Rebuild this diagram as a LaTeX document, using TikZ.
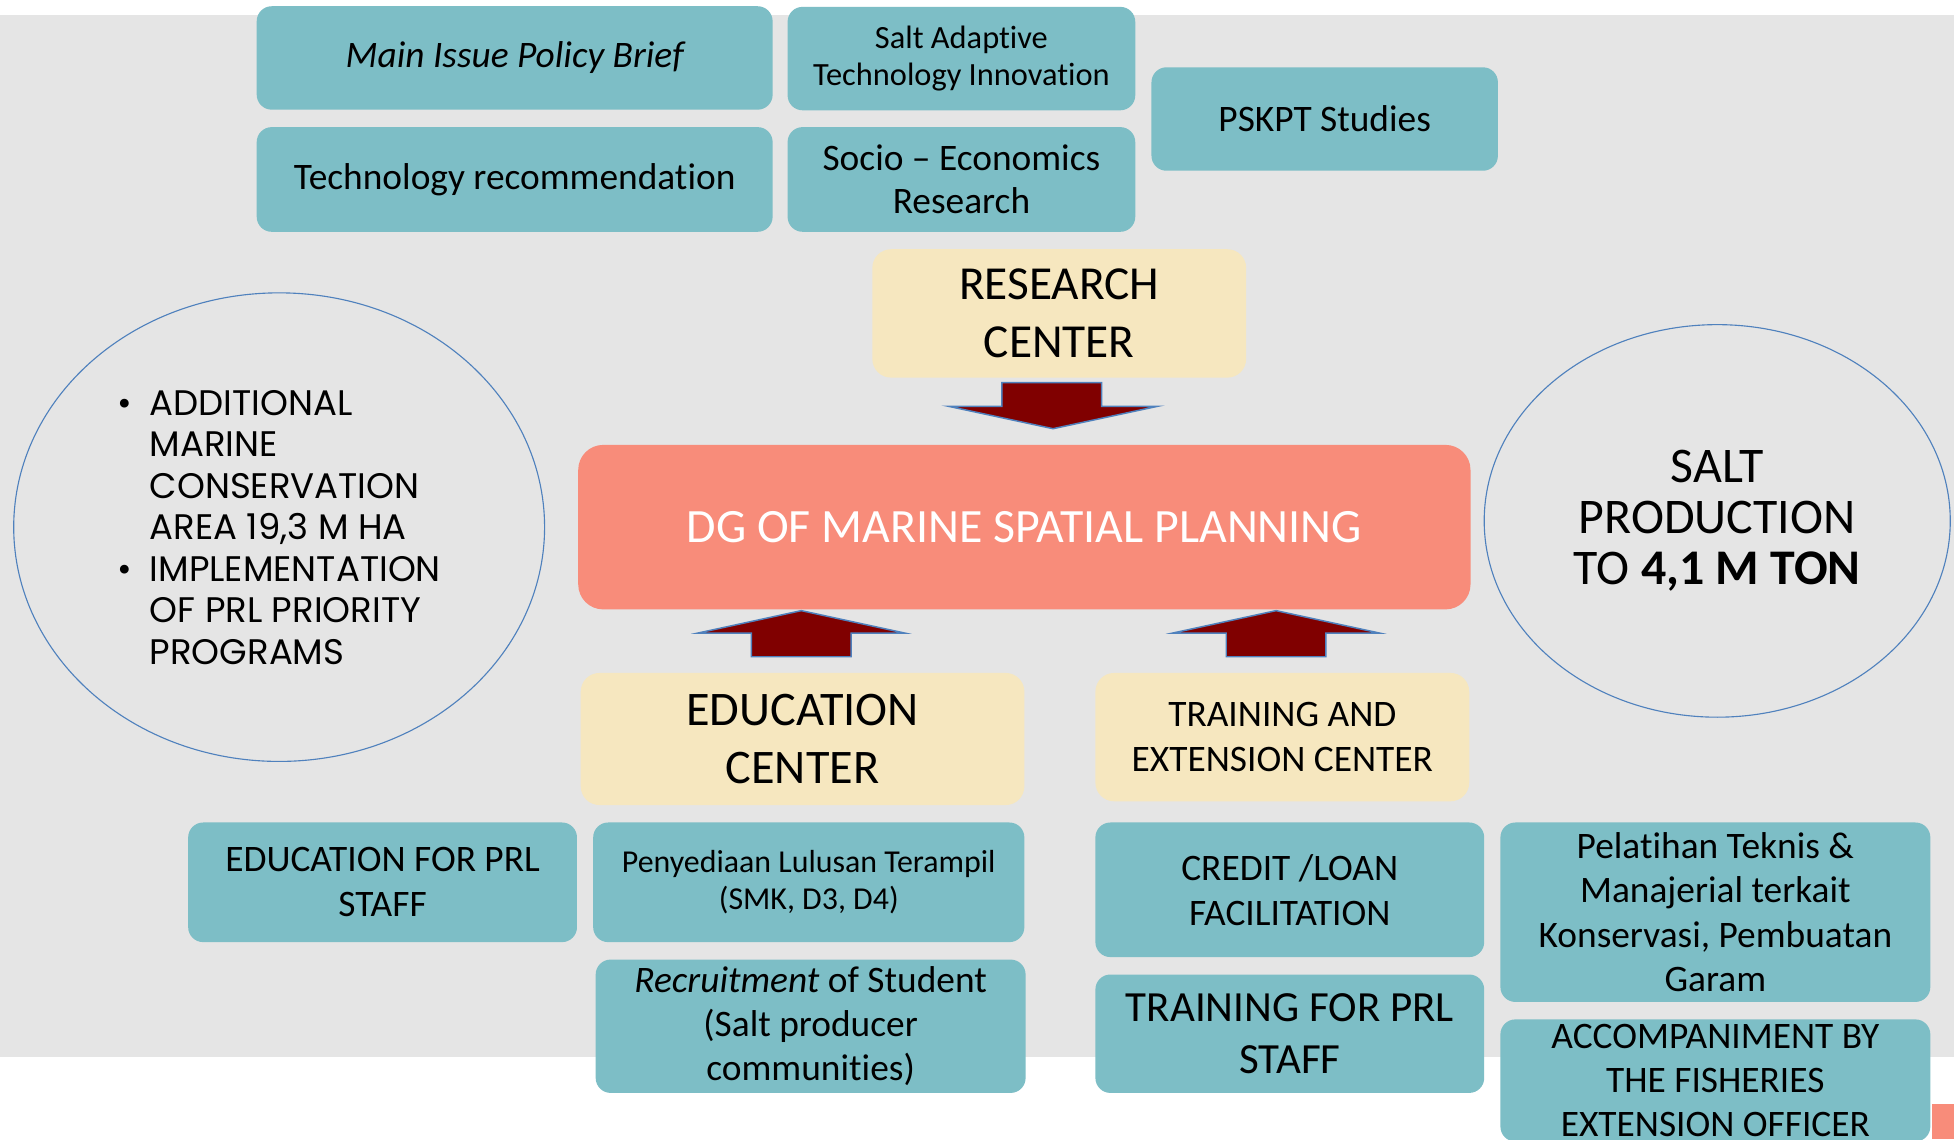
\documentclass[tikz,border=0pt]{standalone}
\usepackage{fontspec}
\setmainfont{Carlito}[Ligatures = NoCommon]
\newfontfamily\gothic{Poppins}
\usetikzlibrary{shapes.geometric}

\definecolor{bggray}{RGB}{229,229,229}
\definecolor{tealfill}{RGB}{125,190,198}
\definecolor{beigefill}{RGB}{246,231,191}
\definecolor{salmonfill}{RGB}{248,140,122}
\definecolor{arrowred}{RGB}{128,0,0}
\definecolor{edgeblue}{RGB}{79,129,189}

\newcommand{\setsz}[2]{\fontsize{#1}{#2}\selectfont}

\begin{document}
\begin{tikzpicture}[x = 1pt, y = -1pt,
    tealbox/.style = {fill = tealfill, rounded corners = 12pt, align = center, inner sep = 0pt},
    beigebox/.style = {fill = beigefill, rounded corners = 15pt, align = center, inner sep = 0pt},
    blockarrow/.style = {fill = arrowred, draw = edgeblue, line width = 1.2pt},
    goal/.style = {ellipse, draw = edgeblue, line width = 0.9pt, inner sep = 0pt}]

        \useasboundingbox (0,0) rectangle (1568,914);
        \fill [white] (0,0) rectangle (1568,914);
        \fill [bggray] (0,12) rectangle (1568,848);
        \fill [salmonfill] (1550,886) rectangle (1568,914);

        % research outputs
        \node [tealbox, minimum width = 414pt, minimum height = 83pt, font = \setsz{30}{35}\itshape] (brief) at (413,46.5) {Main Issue Policy Brief};
        \node [tealbox, minimum width = 414pt, minimum height = 84pt, font = \setsz{30}{35}] (techrec) at (413,144) {Technology recommendation};
        \node [tealbox, minimum width = 279pt, minimum height = 83pt, font = \setsz{26}{30}] (saltinno) at (771.5,47) {Salt Adaptive\\Technology Innovation};
        \node [tealbox, minimum width = 279pt, minimum height = 84pt, font = \setsz{30}{35}] (socio) at (771.5,144) {Socio -- Economics\\Research};
        \node [tealbox, minimum width = 278pt, minimum height = 83pt, font = \setsz{30}{35}] (pskpt) at (1063,95.5) {PSKPT Studies};

        % centers
        \node [beigebox, minimum width = 300pt, minimum height = 103pt, font = \setsz{38}{46}] (research) at (850,251.5) {RESEARCH\\CENTER};
        \node [fill = salmonfill, rounded corners = 20pt, minimum width = 716pt, minimum height = 132pt, text = white, font = \setsz{38.4}{46}] (dg) at (822,423) {DG OF MARINE SPATIAL PLANNING};
        \node [beigebox, minimum width = 356pt, minimum height = 106pt, font = \setsz{38.7}{46}] (educ) at (644,593) {EDUCATION\\CENTER};
        \node [beigebox, minimum width = 300pt, minimum height = 103pt, font = \setsz{30}{36}] (train) at (1029,591.5) {TRAINING AND\\EXTENSION CENTER};

        % block arrows
        \draw [blockarrow] (845,344) -- ++(-84,-18) -- ++(43,0) -- ++(0,-19) -- ++(80,0) -- ++(0,19) -- ++(45,0) -- cycle;
        \foreach \x in {643,1024} {
          \draw [blockarrow] (\x,490) -- ++(-83,18) -- ++(43,0) -- ++(0,19) -- ++(80,0) -- ++(0,-19) -- ++(43,0) -- cycle;
        }

        % targets
        \node [goal, minimum width = 426pt, minimum height = 376pt, align = left, font = \gothic\setsz{28.5}{33.3}] (conserv) at (224,423)
          {\makebox[26pt][l]{\textbullet}ADDITIONAL\\\hspace*{26pt}MARINE\\\hspace*{26pt}CONSERVATION\\\hspace*{26pt}AREA 19,3 M HA\\
           \makebox[26pt][l]{\textbullet}IMPLEMENTATION\\\hspace*{26pt}OF PRL PRIORITY\\\hspace*{26pt}PROGRAMS};
        \node [goal, minimum width = 374pt, minimum height = 315pt, align = center, font = \setsz{40}{41}] (salt) at (1378,418) {SALT\\PRODUCTION\\TO \textbf{4,1 M TON}};

        % programs
        \node [tealbox, minimum width = 312pt, minimum height = 96pt, font = \setsz{30}{36}] (edprl) at (307,708) {EDUCATION FOR PRL\\STAFF};
        \node [tealbox, minimum width = 346pt, minimum height = 96pt, font = \setsz{25.6}{30}] (penyed) at (649,708) {Penyediaan Lulusan Terampil\\(SMK, D3, D4)};
        \node [tealbox, minimum width = 345pt, minimum height = 107pt, font = \setsz{30}{35.5}] (recruit) at (650.5,823.5) {\textit{Recruitment} of Student\\(Salt producer\\communities)};
        \node [tealbox, minimum width = 312pt, minimum height = 108pt, font = \setsz{30}{36}] (credit) at (1035,714) {CREDIT /LOAN\\FACILITATION};
        \node [tealbox, minimum width = 312pt, minimum height = 95pt, font = \setsz{34.5}{41}] (trprl) at (1035,829.5) {TRAINING FOR PRL\\STAFF};
        \node [tealbox, minimum width = 345pt, minimum height = 144pt, font = \setsz{30}{35.7}] (pelat) at (1376.5,732) {Pelatihan Teknis \&\\Manajerial terkait\\Konservasi, Pembuatan\\Garam};
        \node [tealbox, minimum width = 345pt, minimum height = 98pt, font = \setsz{30}{35}] (accomp) at (1376.5,867) {ACCOMPANIMENT BY\\THE FISHERIES\\EXTENSION OFFICER};
        \end{tikzpicture}
\end{document}
